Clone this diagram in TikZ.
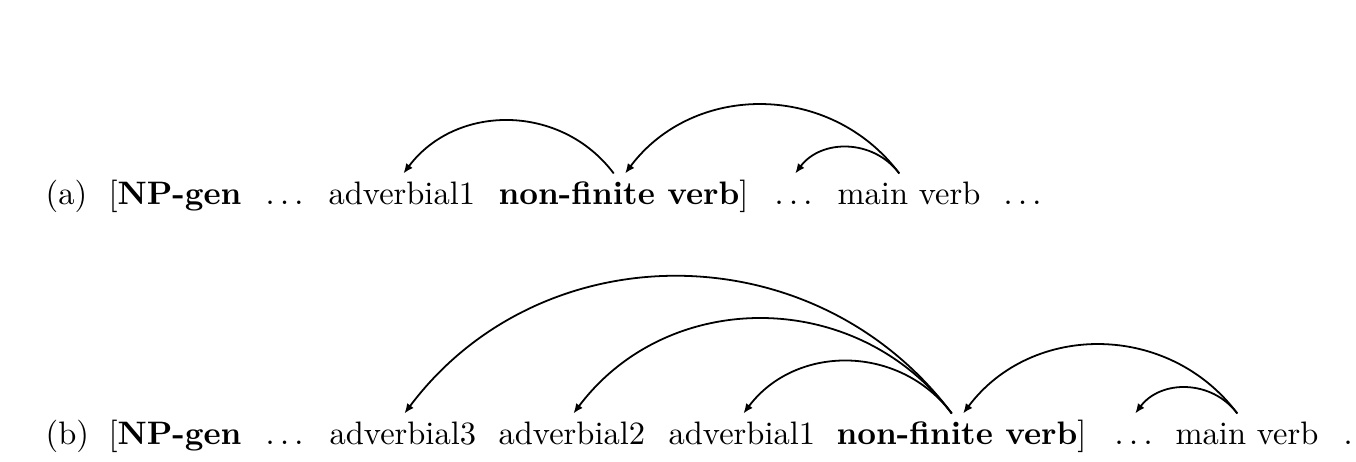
\documentclass[tikz,border=0pt]{standalone}
\usetikzlibrary{arrows.meta,calc}

% dependency arc: from the head word (start) to the dependent (end),
% height a quarter of the span, ends slightly slanted inwards
\newcommand\deparc[2]{%
  \draw[dep] let \p1=(#1), \p2=(#2) in
    (\p1) .. controls ({\x1+0.25*(\x2-\x1)},{\y1+abs(\x2-\x1)/3})
             and ({\x2-0.25*(\x2-\x1)},{\y2+abs(\x2-\x1)/3}) .. (\p2);}
% spaced ellipsis
\newcommand\gap{$\ldots$}

\begin{document}
\begin{tikzpicture}[x=0.30769pt, y=-0.30769pt,
  word/.style={anchor=base west, inner sep=0pt, text height=9.2pt,
    text depth=2.5pt, font=\fontsize{10}{12}\selectfont},
  dep/.style={line width=0.55pt, -{Latex[length=3pt,width=2.5pt]}},
  from/.style={xshift=-3pt},
  to/.style={xshift=0.5pt}]
\useasboundingbox (0,0) rectangle (1356,461);

% sentence (a)
\node[word] (a1) at (45,204)   {(a)};
\node[word] (a2) at (108,204)  {[\textbf{NP-gen}};
\node[word] (a3) at (265,204)  {\gap};
\node[word] (a4) at (328,204)  {adverbial1};
\node[word] (a5) at (498,204)  {\textbf{non-finite verb}]};
\node[word] (a6) at (774,204)  {\gap};
\node[word] (a7) at (837,204)  {main verb};
\node[word] (a8) at (1003,204) {\gap};

\deparc{[from]a5.north}{[to]a4.north}
\deparc{[from]a7.north}{[to]a5.north}
\deparc{[from]a7.north}{[to]a6.north}

% sentence (b)
\node[word] (b1)  at (45,444)   {(b)};
\node[word] (b2)  at (108,444)  {[\textbf{NP-gen}};
\node[word] (b3)  at (265,444)  {\gap};
\node[word] (b4)  at (329,444)  {adverbial3};
\node[word] (b5)  at (498,444)  {adverbial2};
\node[word] (b6)  at (668,444)  {adverbial1};
\node[word] (b7)  at (836,444)  {\textbf{non-finite verb}]};
\node[word] (b8)  at (1114,444) {\gap};
\node[word] (b9)  at (1175,444) {main verb};
\node[word] (b10) at (1343,444) {.};

\deparc{[from]b7.north}{[to]b4.north}
\deparc{[from]b7.north}{[to]b5.north}
\deparc{[from]b7.north}{[to]b6.north}
\deparc{[from]b9.north}{[to]b7.north}
\deparc{[from]b9.north}{[to]b8.north}
\end{tikzpicture}
\end{document}
